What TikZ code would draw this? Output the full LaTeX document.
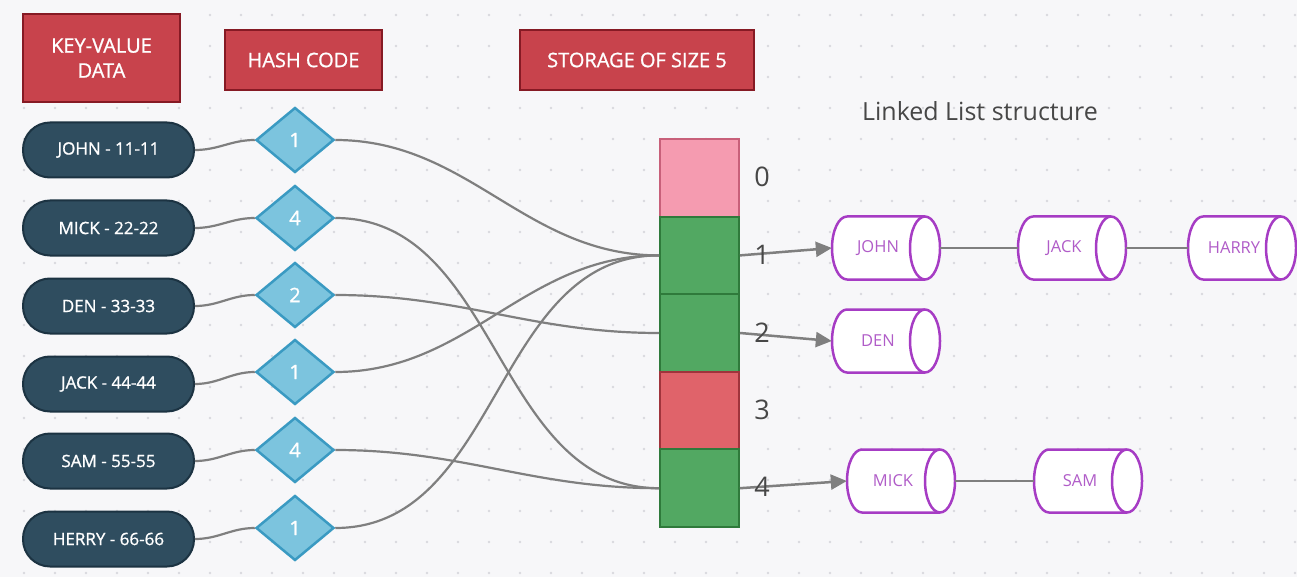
\documentclass[tikz,border=0pt]{standalone}
\usepackage{fontspec}
\setmainfont{Open Sans}
\newfontfamily\semibf{Open Sans}[FakeBold=1]
\usetikzlibrary{shapes.geometric,arrows.meta}
\definecolor{bgc}{HTML}{F7F7F9}
\definecolor{dotc}{HTML}{D9D9DE}
\definecolor{hdrfill}{HTML}{C8434C}
\definecolor{hdrline}{HTML}{861A24}
\definecolor{pillfill}{HTML}{2F4D5F}
\definecolor{pillline}{HTML}{1C3342}
\definecolor{diafill}{HTML}{7CC4DE}
\definecolor{dialine}{HTML}{3A9AC2}
\definecolor{pinkc}{HTML}{F59BB0}
\definecolor{pinkl}{HTML}{C8607A}
\definecolor{greenc}{HTML}{52A862}
\definecolor{greenl}{HTML}{2F7A3B}
\definecolor{redc}{HTML}{E0636A}
\definecolor{redl}{HTML}{A0343C}
\definecolor{purp}{HTML}{A63CC4}
\definecolor{purpt}{HTML}{B05CC8}
\definecolor{linec}{HTML}{7F7F7F}
\definecolor{labc}{HTML}{474747}
\tikzset{
  hdr/.style={draw=hdrline, line width=2pt, fill=hdrfill, text=white, align=center,
    font=\semibf\fontsize{20}{25}\selectfont, inner sep=0pt},
  pill/.style={draw=pillline, line width=2pt, fill=pillfill, text=white,
    rounded corners=27pt, minimum width=171pt, minimum height=55pt, inner sep=0pt,
    font=\semibf\fontsize{17}{20}\selectfont},
  dia/.style={diamond, draw=dialine, line width=2.5pt, fill=diafill, text=white,
    minimum width=78pt, minimum height=65pt, inner sep=0pt, font=\semibf\fontsize{20}{22}\selectfont},
  cell/.style={draw, line width=2pt, minimum width=79pt, minimum height=77.6pt, inner sep=0pt},
  idx/.style={text=labc, font=\fontsize{27}{30}\selectfont, inner sep=0pt},
  lbox/.style={rectangle, text=purpt, minimum width=108pt, minimum height=63pt, inner sep=0pt,
    font=\fontsize{16.5}{18}\selectfont},
  cylline/.style={draw=purp, line width=2.5pt, line join=round},
  conn/.style={draw=linec, line width=2.2pt},
  arr/.style={draw=linec, line width=2.5pt, -{Triangle[length=16pt,width=15pt]}},
}
% cylinder-shaped list node: #1 name, #2 x, #3 y, #4 text
\newcommand\cylnode[4]{%
  \draw[cylline, fill=white] (#2-39,#3-31.5) -- (#2+39,#3-31.5)
    arc[start angle=90, end angle=-90, x radius=15pt, y radius=31.5pt]
    -- (#2-39,#3+31.5)
    arc[start angle=270, end angle=90, x radius=15pt, y radius=31.5pt] -- cycle;
  \draw[cylline] (#2+39,#3-31.5) arc[start angle=90, end angle=270, x radius=15pt, y radius=31.5pt];
  \node[lbox] (#1) at (#2,#3) {\hspace*{-16pt}#4};
}
\begin{document}
\begin{tikzpicture}[x=1pt,y=-1pt]
\useasboundingbox (0,0) rectangle (1297,577);
\fill[bgc] (0,0) rectangle (1297,577);
\foreach \i in {0,...,41} {\foreach \j in {0,...,18} {\fill[dotc] (24+31*\i,15+31*\j) circle (1.3pt);}}

% headers
\node[hdr, minimum width=157pt, minimum height=88pt] (kv) at (101.5,58) {KEY-VALUE\\DATA};
\node[hdr, minimum width=157pt, minimum height=60pt] (hc) at (303.5,60) {HASH CODE};
\node[hdr, minimum width=234pt, minimum height=60pt] (st) at (637,60) {STORAGE OF SIZE 5};
\node[text=labc, font=\fontsize{25}{28}\selectfont] (ll) at (980,111) {Linked List structure};

% key-value pills
\node[pill] (p1) at (108.5,150) {JOHN - 11-11};
\node[pill] (p2) at (108.5,228) {MICK - 22-22};
\node[pill] (p3) at (108.5,306) {DEN - 33-33};
\node[pill] (p4) at (108.5,384) {JACK - 44-44};
\node[pill] (p5) at (108.5,461) {SAM - 55-55};
\node[pill] (p6) at (108.5,539) {HERRY - 66-66};

% hash diamonds
\node[dia] (d1) at (295,140) {1};
\node[dia] (d2) at (295,218) {4};
\node[dia] (d3) at (295,295) {2};
\node[dia] (d4) at (295,372) {1};
\node[dia] (d5) at (295,450) {4};
\node[dia] (d6) at (295,528) {1};

\foreach \k in {1,...,6} {\draw[conn] (p\k.east) to[out=0,in=180] (d\k.west);}

% storage cells
\node[cell, fill=pinkc, draw=pinkl] (c0) at (699.5,177.8) {};
\node[cell, fill=greenc, draw=greenl] (c1) at (699.5,255.4) {};
\node[cell, fill=greenc, draw=greenl] (c2) at (699.5,333) {};
\node[cell, fill=redc, draw=redl] (c3) at (699.5,410.6) {};
\node[cell, fill=greenc, draw=greenl] (c4) at (699.5,488.2) {};

% hash -> storage curves
\draw[conn] (d1.east) to[out=0,in=180] (c1.west);
\draw[conn] (d2.east) to[out=0,in=180] (c4.west);
\draw[conn] (d3.east) to[out=0,in=180] (c2.west);
\draw[conn] (d4.east) to[out=0,in=180] (c1.west);
\draw[conn] (d5.east) to[out=0,in=180] (c4.west);
\draw[conn] (d6.east) to[out=0,in=180] (c1.west);

% linked list nodes
\cylnode{lj}{886}{248}{JOHN}
\cylnode{lk}{1072}{248}{JACK}
\cylnode{lh}{1242}{248}{HARRY}
\cylnode{ld}{886}{341}{DEN}
\cylnode{lm}{901}{481}{MICK}
\cylnode{ls}{1088}{481}{SAM}

\draw[arr] (c1.east) -- (lj.west);
\draw[arr] (c2.east) -- (ld.west);
\draw[arr] (c4.east) -- (lm.west);
\draw[conn, line width=2.5pt] (lj.east) -- (lk.west);
\draw[conn, line width=2.5pt] (lk.east) -- (lh.west);
\draw[conn, line width=2.5pt] (lm.east) -- (ls.west);

% indices
\node[idx] (i0) at (762,177) {0};
\node[idx] (i1) at (762,255) {1};
\node[idx] (i2) at (762,333) {2};
\node[idx] (i3) at (762,410) {3};
\node[idx] (i4) at (762,487) {4};
\end{tikzpicture}
\end{document}
